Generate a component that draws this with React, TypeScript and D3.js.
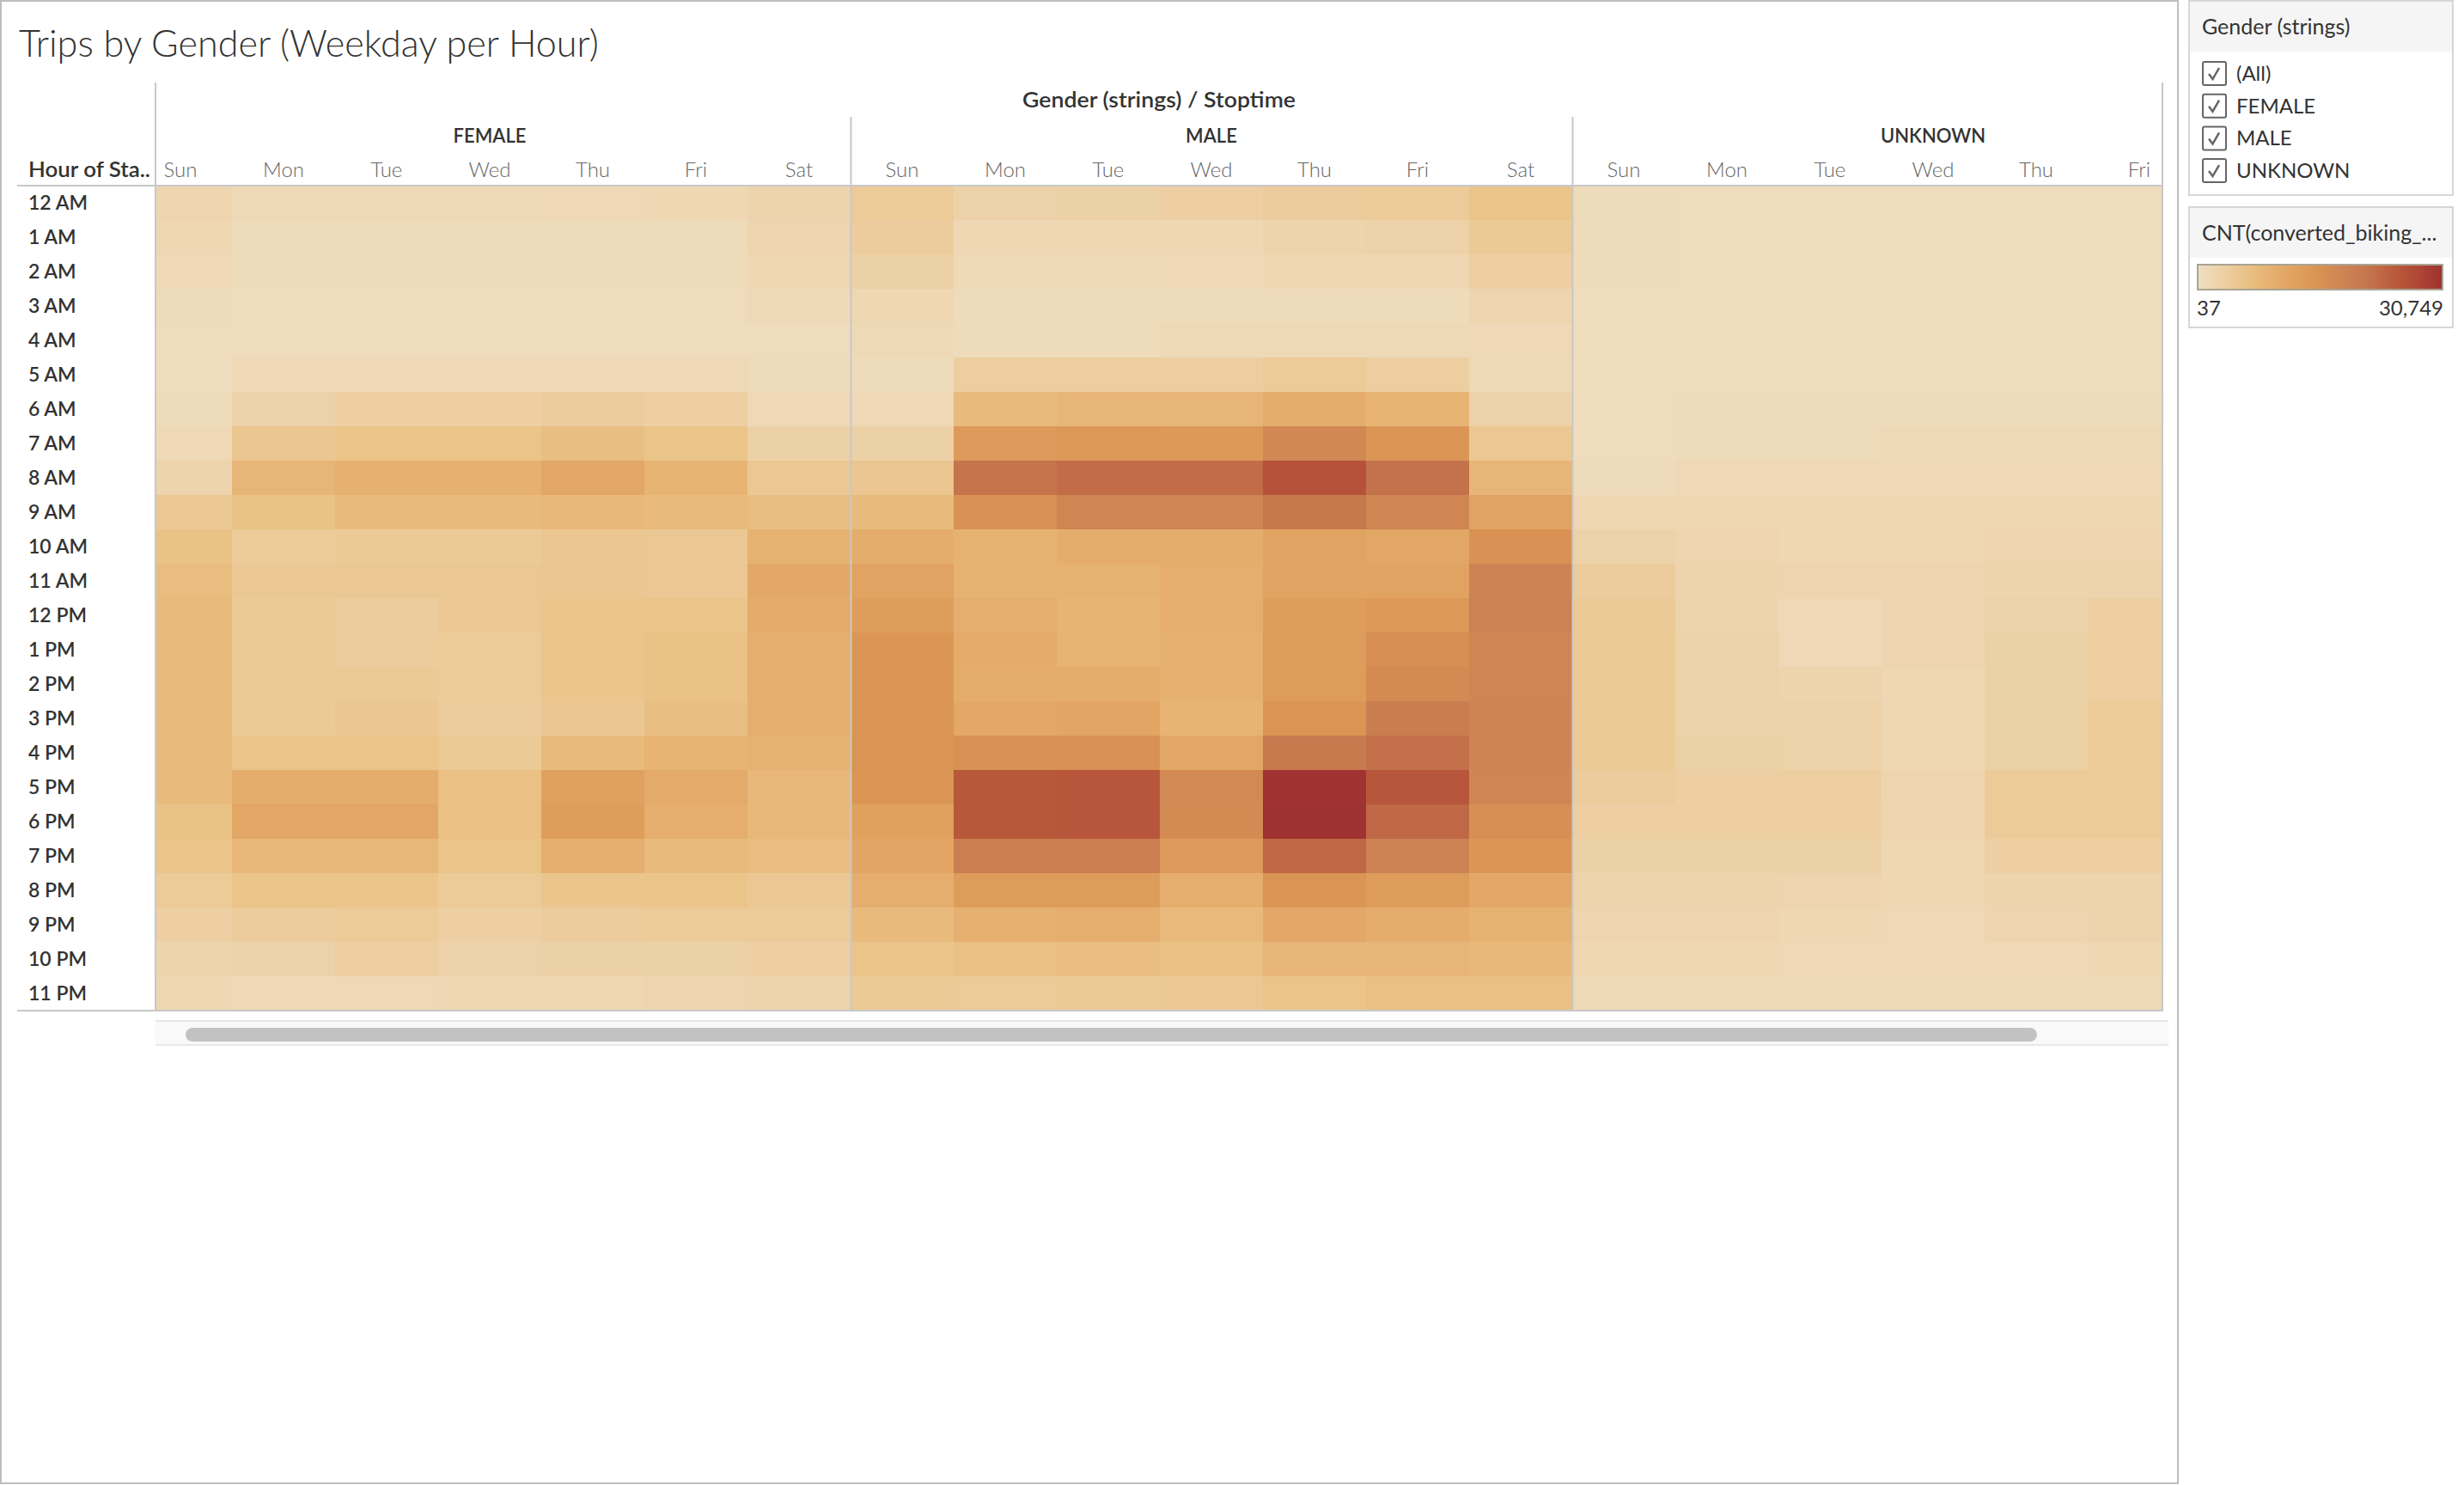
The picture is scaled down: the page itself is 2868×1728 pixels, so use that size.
import { useRef, useEffect } from "react";
import * as d3 from "d3";

const GENDERS = ["FEMALE", "MALE", "UNKNOWN"];
const DAYS = ["Sun", "Mon", "Tue", "Wed", "Thu", "Fri", "Sat"];
const HOURS = [
  "12 AM", "1 AM", "2 AM", "3 AM", "4 AM", "5 AM", "6 AM", "7 AM", "8 AM", "9 AM", "10 AM", "11 AM",
  "12 PM", "1 PM", "2 PM", "3 PM", "4 PM", "5 PM", "6 PM", "7 PM", "8 PM", "9 PM", "10 PM", "11 PM",
];

// trips per weekday (Sun..Sat), 24 hourly counts each
const FEMALE_TRIPS = [
  [2190, 1880, 1570, 960, 650, 650, 960, 1570, 2490, 4950, 6180, 7100, 7410, 7410, 7410, 7410, 7410, 7410, 6180, 5870, 4340, 3420, 2490, 1880],
  [1270, 960, 960, 650, 650, 1570, 2800, 5260, 8330, 6180, 4340, 4950, 4640, 4640, 4640, 4640, 5870, 9870, 11090, 8020, 5870, 4030, 2800, 1570],
  [1270, 960, 960, 650, 650, 1570, 3420, 5870, 9250, 7410, 4640, 4950, 4030, 4030, 4640, 5260, 5870, 9870, 11090, 8020, 5870, 4340, 3720, 1570],
  [1270, 960, 960, 650, 650, 1570, 3420, 5870, 9250, 7410, 4640, 4950, 4950, 4340, 4340, 4030, 4640, 6490, 6490, 5870, 4340, 3420, 2800, 1880],
  [1570, 960, 960, 650, 650, 1570, 4030, 6790, 11090, 8020, 5260, 5260, 5570, 5570, 5570, 5260, 7410, 12320, 12940, 9560, 5570, 4030, 3110, 1880],
  [1880, 960, 960, 650, 650, 1570, 3420, 5870, 8640, 7410, 4950, 4950, 5870, 6180, 6180, 6790, 8640, 10480, 9560, 7410, 5870, 4340, 3110, 2190],
  [2490, 2190, 1880, 1270, 650, 960, 1570, 3110, 4950, 6790, 8940, 10790, 10480, 9560, 9560, 9560, 8940, 8020, 8020, 7100, 4950, 4340, 3420, 2490],
];

const MALE_TRIPS = [
  [4340, 4030, 3110, 1880, 1270, 960, 1570, 3110, 5260, 7410, 9870, 11710, 12940, 14470, 14470, 14780, 14780, 14470, 12320, 11400, 9560, 7410, 5870, 4640],
  [2800, 1880, 1270, 960, 960, 3720, 7410, 13550, 21540, 15390, 8940, 8940, 9560, 10170, 9870, 10790, 15700, 25220, 25220, 19390, 13240, 9250, 6490, 4340],
  [3110, 1880, 1270, 960, 960, 3720, 8330, 14160, 22460, 17850, 9870, 8940, 8640, 8640, 9870, 11400, 15700, 25530, 25530, 19390, 13240, 9560, 7100, 4640],
  [3420, 1880, 1570, 960, 1270, 3720, 8330, 13860, 22460, 17850, 9870, 9560, 9560, 9250, 9250, 8640, 11090, 17240, 16930, 13550, 9560, 7720, 6490, 4950],
  [4030, 2490, 1880, 960, 1270, 4340, 9870, 17540, 26140, 20610, 11710, 11710, 12940, 13240, 13240, 14780, 20310, 30440, 30749, 23070, 14780, 10790, 8330, 5870],
  [4340, 2800, 1880, 960, 1270, 3720, 8640, 14470, 21840, 17850, 11090, 11710, 14160, 16010, 16930, 19690, 22150, 25530, 23070, 18770, 13240, 9870, 8330, 6490],
  [5870, 4640, 3420, 2190, 1570, 1270, 2800, 4950, 8330, 11710, 15390, 18460, 18770, 17850, 17850, 18160, 18160, 17850, 16010, 14470, 10790, 8940, 8020, 6490],
];

const UNKNOWN_TRIPS = [
  [960, 960, 960, 650, 650, 650, 650, 650, 960, 1880, 2800, 4030, 4640, 4640, 4640, 4640, 4640, 4030, 3420, 3110, 2490, 2190, 1880, 1270],
  [650, 650, 650, 650, 650, 650, 960, 960, 1570, 1880, 2190, 2490, 2490, 2800, 2800, 2800, 3110, 3420, 3420, 3110, 2490, 2190, 1880, 1270],
  [650, 650, 650, 650, 650, 650, 960, 960, 1570, 1880, 1880, 2190, 1570, 1570, 2490, 2800, 2800, 3720, 3420, 3110, 2190, 1880, 1570, 1270],
  [650, 650, 650, 650, 650, 650, 960, 1270, 1570, 1880, 1880, 2190, 2190, 2190, 1880, 1880, 1880, 2190, 2190, 1880, 1880, 1570, 1570, 1270],
  [650, 650, 650, 650, 650, 650, 960, 1270, 1570, 1880, 2190, 2490, 2800, 3110, 3110, 3110, 3110, 4340, 4340, 3420, 2490, 2190, 1570, 1270],
  [650, 650, 650, 650, 650, 650, 960, 1270, 1570, 1880, 2190, 2490, 3720, 3720, 3720, 4340, 4340, 4340, 4340, 3420, 2490, 2490, 1880, 1270],
  [1270, 960, 960, 650, 650, 650, 650, 960, 1270, 1880, 2800, 3720, 4340, 4640, 4640, 4640, 4340, 4030, 3420, 3110, 2490, 2190, 1880, 1570],
];

const COUNT_MIN = 37;
const COUNT_MAX = 30749;
const RAMP = ["#efdfc3", "#edd1a6", "#eac286", "#e6b070", "#e0a05e", "#d99253", "#cd8353", "#c5744c", "#ba5c3d", "#af4735", "#9e3131"];
const FILTER_ITEMS = ["(All)", "FEMALE", "MALE", "UNKNOWN"];

const FONT = "Lato, 'Open Sans', sans-serif";
const GRID = "#c8c8c8";

export default function App() {
  const svgRef = useRef<SVGSVGElement>(null);

  useEffect(() => {
    if (!svgRef.current) return;
    const svg = d3.select(svgRef.current);
    svg.selectAll("*").remove();

    const W = 2868;
    const H = 1728;
    svg.attr("width", W).attr("height", H).attr("viewBox", `0 0 ${W} ${H}`).style("font-family", FONT);

    // pane geometry (view is scrolled a little to the right, like the original)
    const paneLeft = 181;
    const paneRight = 2517;
    const colW = 120;
    const scrollX = 31;
    const top = 216;
    const rowH = 40;

    const tables: Record<string, number[][]> = {
      FEMALE: FEMALE_TRIPS,
      MALE: MALE_TRIPS,
      UNKNOWN: UNKNOWN_TRIPS,
    };

    const cols = GENDERS.flatMap((g) => DAYS.map((d) => `${g}|${d}`));
    const cells = GENDERS.flatMap((g) =>
      DAYS.flatMap((d, di) =>
        HOURS.map((h, hi) => ({ col: `${g}|${d}`, hour: h, count: tables[g][di][hi] }))
      )
    );

    const x = d3
      .scaleBand()
      .domain(cols)
      .range([paneLeft - scrollX, paneLeft - scrollX + cols.length * colW]);

    const y = d3
      .scaleBand()
      .domain(HOURS)
      .range([top, top + HOURS.length * rowH]);

    const bottom = top + HOURS.length * rowH;

    const color = d3
      .scaleLinear<string>()
      .domain(RAMP.map((_, i) => COUNT_MIN + (i / (RAMP.length - 1)) * (COUNT_MAX - COUNT_MIN)))
      .range(RAMP)
      .interpolate(d3.interpolateRgb);

    // sheet border
    svg.append("rect")
      .attr("x", 1).attr("y", 1).attr("width", 2534).attr("height", 1725)
      .attr("fill", "#fff").attr("stroke", "#bdbdbd").attr("stroke-width", 2);

    // title
    svg.append("text")
      .attr("x", 22).attr("y", 66)
      .attr("fill", "#333")
      .attr("font-weight", 300)
      .style("font-size", "44px")
      .attr("textLength", 675)
      .attr("lengthAdjust", "spacingAndGlyphs")
      .text("Trips by Gender (Weekday per Hour)");

    const defs = svg.append("defs");
    defs.append("clipPath").attr("id", "pane-clip")
      .append("rect")
      .attr("x", paneLeft).attr("y", 80)
      .attr("width", paneRight - paneLeft).attr("height", bottom - 80 + 2);

    const pane = svg.append("g").attr("clip-path", "url(#pane-clip)");

    pane.selectAll("rect.cell")
      .data(cells)
      .join("rect")
      .attr("class", "cell")
      .attr("x", (d) => x(d.col)!)
      .attr("y", (d) => y(d.hour)!)
      .attr("width", x.bandwidth())
      .attr("height", y.bandwidth())
      .attr("fill", (d) => color(d.count))
      .attr("shape-rendering", "crispEdges");

    // weekday labels (only those scrolled into view)
    const visibleCols = cols.filter((c) => {
      const cx = x(c)! + x.bandwidth() / 2;
      return cx > paneLeft && cx < paneRight;
    });
    pane.selectAll("text.day")
      .data(visibleCols)
      .join("text")
      .attr("class", "day")
      .attr("x", (d) => x(d)! + x.bandwidth() / 2)
      .attr("y", 206)
      .attr("text-anchor", "middle")
      .attr("fill", "#666")
      .attr("font-weight", 300)
      .style("font-size", "24px")
      .text((d) => d.split("|")[1]);

    // gender labels
    pane.selectAll("text.gender")
      .data(GENDERS)
      .join("text")
      .attr("class", "gender")
      .attr("x", (g) => x(`${g}|Sun`)! + (DAYS.length * colW) / 2)
      .attr("y", 166)
      .attr("text-anchor", "middle")
      .attr("fill", "#333")
      .attr("font-weight", 600)
      .style("font-size", "22px")
      .text((g) => g);

    // separators between genders
    pane.selectAll("line.sep")
      .data(GENDERS.slice(1))
      .join("line")
      .attr("class", "sep")
      .attr("x1", (g) => x(`${g}|Sun`)! + 0.5)
      .attr("x2", (g) => x(`${g}|Sun`)! + 0.5)
      .attr("y1", 136).attr("y2", bottom)
      .attr("stroke", GRID).attr("stroke-width", 2);

    svg.append("text")
      .attr("x", (paneLeft + paneRight) / 2).attr("y", 125)
      .attr("text-anchor", "middle")
      .attr("fill", "#333")
      .attr("font-weight", 600)
      .style("font-size", "24px")
      .attr("textLength", 318)
      .attr("lengthAdjust", "spacingAndGlyphs")
      .text("Gender (strings) / Stoptime");

    // pane frame lines
    [paneLeft, paneRight].forEach((lx) => {
      svg.append("line")
        .attr("x1", lx).attr("x2", lx).attr("y1", 96).attr("y2", bottom)
        .attr("stroke", GRID).attr("stroke-width", 2);
    });
    [top, bottom].forEach((ly) => {
      svg.append("line")
        .attr("x1", 20).attr("x2", paneRight + 1).attr("y1", ly).attr("y2", ly)
        .attr("stroke", GRID).attr("stroke-width", 2);
    });

    // row header
    svg.append("text")
      .attr("x", 33).attr("y", 206)
      .attr("fill", "#333")
      .attr("font-weight", 600)
      .style("font-size", "24px")
      .attr("textLength", 142)
      .attr("lengthAdjust", "spacingAndGlyphs")
      .text("Hour of Sta..");

    svg.selectAll("text.hour")
      .data(HOURS)
      .join("text")
      .attr("class", "hour")
      .attr("x", 33)
      .attr("y", (h) => y(h)! + y.bandwidth() / 2 + 8)
      .attr("fill", "#333")
      .attr("font-weight", 600)
      .style("font-size", "23px")
      .text((h) => h);

    // horizontal scrollbar
    const trackX = paneLeft;
    const trackW = 2524 - paneLeft;
    const totalW = cols.length * colW;
    const visW = paneRight - paneLeft;
    svg.append("rect")
      .attr("x", trackX).attr("y", 1188).attr("width", trackW).attr("height", 29)
      .attr("fill", "#f9f9f9");
    [1188, 1216].forEach((ly) => {
      svg.append("line")
        .attr("x1", trackX).attr("x2", trackX + trackW).attr("y1", ly).attr("y2", ly)
        .attr("stroke", "#e8e8e8").attr("stroke-width", 2);
    });
    svg.append("rect")
      .attr("x", trackX + 35)
      .attr("y", 1196)
      .attr("width", (visW / totalW) * trackW - 17)
      .attr("height", 16)
      .attr("rx", 8)
      .attr("fill", "#c2c2c2");

    // filter card
    const cardX = 2548;
    const cardW = 307;
    const card1 = svg.append("g");
    card1.append("rect")
      .attr("x", cardX).attr("y", 1).attr("width", cardW).attr("height", 226)
      .attr("fill", "#fff").attr("stroke", "#d6d6d6").attr("stroke-width", 2);
    card1.append("rect")
      .attr("x", cardX + 1).attr("y", 2).attr("width", cardW - 2).attr("height", 58)
      .attr("fill", "#f5f5f5");
    card1.append("text")
      .attr("x", 2563).attr("y", 40)
      .attr("fill", "#333")
      .style("font-size", "25px")
      .text("Gender (strings)");

    const item = card1.selectAll("g.item")
      .data(FILTER_ITEMS)
      .join("g")
      .attr("class", "item")
      .attr("transform", (_, i) => `translate(2563,${71 + i * 37.7})`);
    item.append("rect")
      .attr("x", 1).attr("y", 1).attr("width", 27).attr("height", 27).attr("rx", 2)
      .attr("fill", "#fff").attr("stroke", "#666").attr("stroke-width", 2);
    item.append("path")
      .attr("d", "M8,15 L12.5,21 L20,8")
      .attr("fill", "none").attr("stroke", "#666").attr("stroke-width", 2.5);
    item.append("text")
      .attr("x", 40).attr("y", 23)
      .attr("fill", "#333")
      .style("font-size", "24px")
      .text((d) => d);

    // colour legend card
    const card2 = svg.append("g");
    card2.append("rect")
      .attr("x", cardX).attr("y", 241).attr("width", cardW).attr("height", 140)
      .attr("fill", "#fff").attr("stroke", "#d6d6d6").attr("stroke-width", 2);
    card2.append("rect")
      .attr("x", cardX + 1).attr("y", 242).attr("width", cardW - 2).attr("height", 58)
      .attr("fill", "#f5f5f5");
    card2.append("text")
      .attr("x", 2563).attr("y", 280)
      .attr("fill", "#333")
      .style("font-size", "25px")
      .text("CNT(converted_biking_...");

    const grad = defs.append("linearGradient").attr("id", "ramp");
    RAMP.forEach((c, i) => {
      grad.append("stop").attr("offset", `${(i / (RAMP.length - 1)) * 100}%`).attr("stop-color", c);
    });
    card2.append("rect")
      .attr("x", 2558).attr("y", 308).attr("width", 285).attr("height", 29)
      .attr("fill", "url(#ramp)").attr("stroke", "#a9a392").attr("stroke-width", 2);
    card2.append("text")
      .attr("x", 2557).attr("y", 367)
      .attr("fill", "#333")
      .style("font-size", "24px")
      .text(d3.format(",")(COUNT_MIN));
    card2.append("text")
      .attr("x", 2844).attr("y", 367)
      .attr("text-anchor", "end")
      .attr("fill", "#333")
      .style("font-size", "24px")
      .text(d3.format(",")(COUNT_MAX));
  }, []);

  return <svg ref={svgRef} style={{ position: "absolute", left: 0, top: 0, display: "block" }} />;
}
